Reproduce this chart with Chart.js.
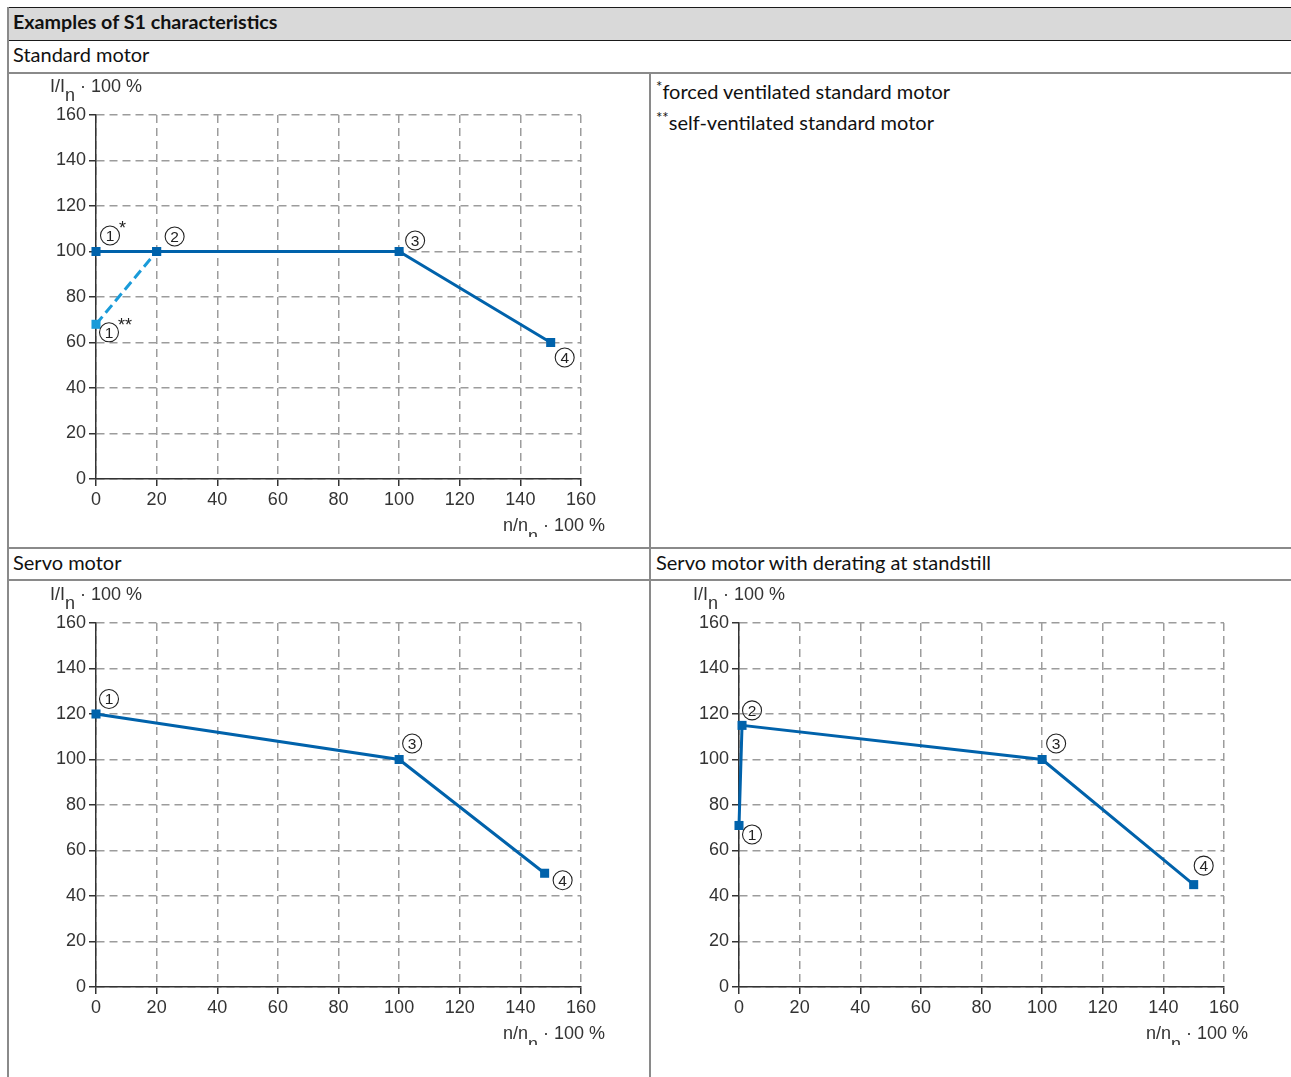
<!DOCTYPE html>
<html>
<head>
<meta charset="utf-8">
<script src="https://cdn.jsdelivr.net/npm/chart.js@4/dist/chart.umd.min.js"></script>
<style>
  html, body { margin: 0; padding: 0; background: #fff; }
  body { width: 1291px; height: 1077px; position: relative; overflow: hidden; font-family: Lato, "Open Sans", sans-serif; color: #111; }
  .abs { position: absolute; }
  .hline { position: absolute; height: 0; }
  .vline { position: absolute; width: 0; }
  .txt { position: absolute; font-size: 20px; line-height: 1; white-space: nowrap; }
  canvas { position: absolute; }
  sup { font-size: 15px; vertical-align: 0; position: relative; top: -7px; }
</style>
</head>
<body>
<div class="abs" style="left:7px;top:7px;width:1290px;height:33px;background:#d9d9d9;"></div>
<div class="hline" style="left:7px;top:7px;width:1290px;border-top:1.5px solid #1a1a1a;"></div>
<div class="hline" style="left:7px;top:40px;width:1290px;border-top:1.5px solid #1a1a1a;"></div>
<div class="hline" style="left:7px;top:72px;width:1290px;border-top:2px solid #8a8a8a;"></div>
<div class="hline" style="left:7px;top:547px;width:1290px;border-top:2px solid #8a8a8a;"></div>
<div class="hline" style="left:7px;top:579px;width:1290px;border-top:2px solid #8a8a8a;"></div>
<div class="vline" style="left:7px;top:7px;height:1070px;border-left:2px solid #8a8a8a;"></div>
<div class="vline" style="left:649px;top:73px;height:1004px;border-left:2px solid #8a8a8a;"></div>

<div class="txt" style="left:13px;top:12px;font-weight:bold;font-size:19.7px;">Examples of S1 characteristics</div>
<div class="txt" style="left:13px;top:44px;">Standard motor</div>
<div class="txt" style="left:13px;top:552px;">Servo motor</div>
<div class="txt" style="left:656px;top:552px;">Servo motor with derating at standstill</div>
<div class="txt" style="left:656px;top:81px;"><sup>*</sup>forced ventilated standard motor</div>
<div class="txt" style="left:656px;top:112px;"><sup>**</sup>self-ventilated standard motor</div>

<canvas id="c1" width="641" height="473" style="left:8px;top:74px;"></canvas>
<canvas id="c2" width="641" height="473" style="left:8px;top:582px;"></canvas>
<canvas id="c3" width="641" height="473" style="left:651px;top:582px;"></canvas>

<script>
// ---------- data ----------
const axisTicks = [0, 20, 40, 60, 80, 100, 120, 140, 160];

// Standard motor
const stdSpeedForced = [0, 20, 100, 150];
const stdCurrentForced = [100, 100, 100, 60];
const stdSpeedSelf = [0, 20];
const stdCurrentSelf = [68, 100];
const stdMarksForced = ['1', '2', '3', '4'];
const stdStarsForced = ['*', '', '', ''];
const stdMarksSelf = ['1', ''];
const stdStarsSelf = ['**', ''];

// Servo motor
const servoSpeed = [0, 100, 148];
const servoCurrent = [120, 100, 50];
const servoMarks = ['1', '3', '4'];

// Servo motor with derating at standstill
const deratSpeed = [0, 1, 100, 150];
const deratCurrent = [71, 115, 100, 45];
const deratMarks = ['1', '2', '3', '4'];

const yTitle = ['I/I', 'n', ' \u00B7 100 %'];
const xTitle = ['n/n', 'n', ' \u00B7 100 %'];

// ---------- styles ----------
const DARK = '#0062ab';
const LIGHT = '#1a9bd9';
const FONT = '"Liberation Sans", Arial, sans-serif';

function pts(xs, ys) { return xs.map((x, i) => ({ x: x, y: ys[i] })); }

// draws main text with a subscript; y is the main baseline
function drawSubText(ctx, parts, x, y, align, subDy, clipBottom) {
  ctx.save();
  ctx.fillStyle = '#333';
  ctx.textBaseline = 'alphabetic';
  ctx.textAlign = 'left';
  ctx.font = '18px ' + FONT;
  const w0 = ctx.measureText(parts[0]).width;
  const w1 = ctx.measureText(parts[1]).width;
  const w2 = ctx.measureText(parts[2]).width;
  const total = w0 + w1 + w2;
  const sx = align === 'right' ? x - total : x;
  ctx.fillText(parts[0], sx, y);
  ctx.save();
  if (clipBottom != null) { ctx.beginPath(); ctx.rect(sx, y - 40, total, clipBottom - (y - 40)); ctx.clip(); }
  ctx.fillText(parts[1], sx + w0, y + subDy);
  ctx.restore();
  ctx.fillText(parts[2], sx + w0 + w1, y);
  ctx.restore();
}

const marksPlugin = {
  id: 'marks',
  afterDatasetsDraw(chart, args, opts) {
    const ctx = chart.ctx;
    const xs = chart.scales.x, ys = chart.scales.y;
    (opts.items || []).forEach(it => {
      const d = chart.data.datasets[it.ds].data[it.i];
      const cx = xs.getPixelForValue(d.x) + it.dx;
      const cy = ys.getPixelForValue(d.y) + it.dy;
      ctx.save();
      ctx.beginPath();
      ctx.arc(cx, cy, 9.5, 0, Math.PI * 2);
      ctx.lineWidth = 1.1;
      ctx.strokeStyle = '#222';
      ctx.stroke();
      ctx.fillStyle = '#222';
      ctx.font = '15.5px ' + FONT;
      ctx.textAlign = 'center';
      ctx.textBaseline = 'middle';
      ctx.fillText(it.text, cx, cy + 1);
      if (it.star) {
        ctx.textAlign = 'left';
        ctx.font = '18px ' + FONT;
        ctx.fillText(it.star, cx + 9, cy - 6);
      }
      ctx.restore();
    });
    const a = chart.chartArea;
    drawSubText(ctx, yTitle, a.left - 46, a.top - 23, 'left', 9, null);
    drawSubText(ctx, xTitle, a.right + 24, a.bottom + 52, 'right', 11, a.bottom + 58);
  }
};

function scaleOpts(isX) {
  return {
    type: 'linear',
    min: 0, max: 160,
    afterBuildTicks: s => { s.ticks = axisTicks.map(v => ({ value: v })); },
    afterFit: s => { if (isX) s.height = 68; else s.width = 88; },
    ticks: { font: { family: FONT, size: 18 }, color: '#333', padding: 3, maxRotation: 0, autoSkip: false },
    grid: { color: '#9c9c9c', lineWidth: 1.5, tickColor: '#333', tickLength: 7, tickWidth: 1.5, tickBorderDash: [] },
    border: { display: true, color: '#333', width: 1.5, dash: [8, 5] }
  };
}

function lineDs(data, color, dash) {
  return {
    data: data, showLine: true, borderColor: color, backgroundColor: color,
    borderWidth: 3, borderDash: dash || [], pointStyle: 'rect', pointRadius: 6.4,
    pointBorderWidth: 0, pointBackgroundColor: color, clip: false, tension: 0
  };
}

function marks(labels, stars, ds, offsets) {
  return labels.map((t, i) => t ? ({ ds: ds, i: i, text: t, star: stars ? stars[i] : '', dx: offsets[i][0], dy: offsets[i][1] }) : null).filter(Boolean);
}

function makeChart(id, datasets, items) {
  return new Chart(document.getElementById(id), {
    type: 'scatter',
    data: { datasets: datasets },
    options: {
      responsive: false, animation: false, devicePixelRatio: 1,
      layout: { padding: { top: 41, right: 68, bottom: 0, left: 0 } },
      plugins: { legend: { display: false }, tooltip: { enabled: false }, marks: { items: items } },
      scales: { x: scaleOpts(true), y: scaleOpts(false) }
    },
    plugins: [marksPlugin]
  });
}

makeChart('c1',
  [lineDs(pts(stdSpeedForced, stdCurrentForced), DARK), lineDs(pts(stdSpeedSelf, stdCurrentSelf), LIGHT, [10, 5])],
  marks(stdMarksForced, stdStarsForced, 0, [[14, -16], [18, -15], [16, -11], [14, 15]])
    .concat(marks(stdMarksSelf, stdStarsSelf, 1, [[13, 8], [0, 0]])));

makeChart('c2',
  [lineDs(pts(servoSpeed, servoCurrent), DARK)],
  marks(servoMarks, null, 0, [[13, -15], [13, -16], [18, 7]]));

makeChart('c3',
  [lineDs(pts(deratSpeed, deratCurrent), DARK)],
  marks(deratMarks, null, 0, [[13, 9], [10, -15], [14, -16], [10, -19]]));
</script>
</body>
</html>
